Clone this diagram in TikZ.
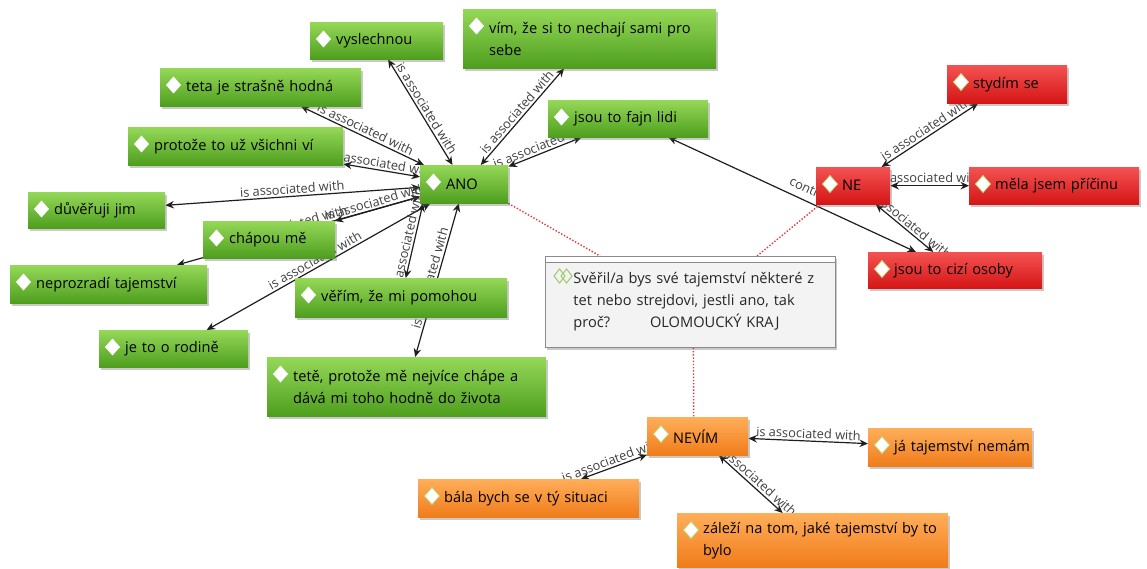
\documentclass[tikz,border=0pt]{standalone}
\usepackage{fontspec}
\setmainfont{Open Sans}
\usetikzlibrary{arrows.meta,calc,shadows}
\pgfdeclarelayer{background}
\pgfdeclarelayer{canvas}
\pgfsetlayers{canvas,background,main}
\definecolor{gtop}{HTML}{95D858}
\definecolor{gbot}{HTML}{4E9E1E}
\definecolor{rtop}{HTML}{F45252}
\definecolor{rbot}{HTML}{D51515}
\definecolor{otop}{HTML}{FFAE5A}
\definecolor{obot}{HTML}{F07C1A}
\definecolor{qfill}{HTML}{F3F3F3}
\definecolor{qdraw}{HTML}{8A8A8A}
\definecolor{labc}{HTML}{404040}
\definecolor{linec}{HTML}{1E1E1E}
\definecolor{dotred}{HTML}{E03C3C}
\definecolor{diaedge}{HTML}{B5DC7A}
\definecolor{qicon}{HTML}{9ACD6A}
\begin{document}
\begin{tikzpicture}[x=1pt,y=-1pt,
  box/.style={rectangle, anchor=north west, inner xsep=4pt, inner ysep=0pt, align=left, text=black,
     font=\fontsize{14.6}{22}\selectfont, execute at begin node={\leftskip=22pt\relax},
     drop shadow={shadow xshift=2pt, shadow yshift=-2.5pt, opacity=0.35, fill=black!60}},
  gbox/.style={box, top color=gtop, bottom color=gbot},
  rbox/.style={box, top color=rtop, bottom color=rbot},
  obox/.style={box, top color=otop, bottom color=obot},
  assoc/.style={draw=linec, line width=1.2pt, <->, >={Stealth[length=8.5pt,width=7.5pt]}},
  lab/.style={sloped, above, font=\fontsize{12.8}{15}\selectfont, text=labc, inner sep=2pt},
  reddot/.style={draw=dotred, line width=1.4pt, dash pattern=on 1.4pt off 1.8pt},
  diaw/.style={fill=white},
  diar/.style={fill=white, draw=diaedge, line width=0.8pt}
]
\begin{pgfonlayer}{canvas}
\fill[white] (0,0) rectangle (1147,569);
\end{pgfonlayer}
\useasboundingbox (0,0) rectangle (1147,569);

% green nodes
\node[gbox, text width=125pt, minimum height=37pt] (vysl) at (310,22) {\mbox{vyslechnou}};
\node[gbox, text width=245pt, minimum height=59pt] (vim) at (463,9) {\mbox{vím, že si to nechají sami pro}\\sebe};
\node[gbox, text width=193pt, minimum height=38pt] (teta) at (160,68) {\mbox{teta je strašně hodná}};
\node[gbox, text width=207pt, minimum height=38pt] (protoze) at (128,127) {\mbox{protože to už všichni ví}};
\node[gbox, text width=129pt, minimum height=36pt] (duveruji) at (28,192) {\mbox{důvěřuji jim}};
\node[gbox, text width=189pt, minimum height=38pt] (neprozradi) at (10,265) {\mbox{neprozradí tajemství}};
\node[gbox, text width=141pt, minimum height=37pt] (rodine) at (99,330) {\mbox{je to o rodině}};
\node[gbox, text width=124pt, minimum height=37pt] (chapou) at (203,221) {\mbox{chápou mě}};
\node[gbox, text width=204pt, minimum height=39pt] (verim) at (295,278) {\mbox{věřím, že mi pomohou}};
\node[gbox, text width=271pt, minimum height=59pt] (tete) at (267,357) {\mbox{tetě, protože mě nejvíce chápe a}\\\mbox{dává mi toho hodně do života}};
\node[gbox, text width=80pt, minimum height=38pt] (ANO) at (420,165) {\mbox{ANO}};
\node[gbox, text width=152pt, minimum height=37pt] (fajn) at (548,100) {\mbox{jsou to fajn lidi}};

% question
\node[box, fill=qfill, draw=qdraw, line width=0.8pt, text width=282pt, minimum height=91pt,
      text=black!85, execute at begin node={\leftskip=24pt\relax}] (question) at (545,256)
  {\mbox{Svěřil/a bys své tajemství některé z}\\\mbox{tet nebo strejdovi, jestli ano, tak}\\\mbox{proč?\hspace{40pt}OLOMOUCKÝ KRAJ}};
\draw[qdraw, fill=white, line width=0.7pt] (question.north west) rectangle ($(question.north east)+(0,6)$);
\draw[qicon, line width=1pt] ($(question.north west)+(9,20)$) -- ++(5.5,-7) -- ++(5.5,7) -- ++(-5.5,7) -- cycle;
\draw[qicon, line width=1pt] ($(question.north west)+(16,20)$) -- ++(5.5,-7) -- ++(5.5,7) -- ++(-5.5,7) -- cycle;

% red nodes
\node[rbox, text width=66pt, minimum height=37pt] (NE) at (816,167) {\mbox{NE}};
\node[rbox, text width=112pt, minimum height=38pt] (stydim) at (947,65) {\mbox{stydím se}};
\node[rbox, text width=162pt, minimum height=37pt] (mela) at (969,167) {\mbox{měla jsem příčinu}};
\node[rbox, text width=166pt, minimum height=36pt] (cizi) at (868,252) {\mbox{jsou to cizí osoby}};

% orange nodes
\node[obox, text width=93pt, minimum height=38pt] (nevim) at (647,417) {\mbox{NEVÍM}};
\node[obox, text width=213pt, minimum height=38pt] (bala) at (418,479) {\mbox{bála bych se v tý situaci}};
\node[obox, text width=156pt, minimum height=38pt] (ja) at (868,428) {\mbox{já tajemství nemám}};
\node[obox, text width=263pt, minimum height=54pt] (zalezi) at (677,513) {\mbox{záleží na tom, jaké tajemství by to}\\bylo};

% diamond icons
\foreach \n in {vysl,vim,teta,protoze,duveruji,neprozradi,rodine,chapou,verim,tete,ANO,fajn}
  \fill[diaw] ($(\n.north west)+(6,17)$) -- ++(7.5,-8.5) -- ++(7.5,8.5) -- ++(-7.5,8.5) -- cycle;
\foreach \n in {NE,stydim,mela,cizi,nevim,bala,ja,zalezi}
  \filldraw[diar] ($(\n.north west)+(6.5,17)$) -- ++(7.5,-8.5) -- ++(7.5,8.5) -- ++(-7.5,8.5) -- cycle;

\begin{pgfonlayer}{background}
\draw[assoc] (ANO) -- node[lab]{is associated with} (vysl);
\draw[assoc] (ANO) -- node[lab]{is associated with} (vim);
\draw[assoc] (ANO) -- node[lab]{is associated with} (fajn);
\draw[assoc] (ANO) -- node[lab]{is associated with} (teta);
\draw[assoc] (ANO) -- node[lab]{is associated with} (protoze);
\draw[assoc] (ANO) -- node[lab]{is associated with} (duveruji);
\draw[assoc] (ANO) -- node[lab]{is associated with} (chapou);
\draw[assoc] (ANO) -- node[lab]{is associated with} (neprozradi);
\draw[assoc] (ANO) -- node[lab]{is associated with} (rodine);
\draw[assoc] ($(ANO.south west)+(3,0)$) -- node[lab]{is associated with} (verim);
\draw[assoc] (ANO) -- node[lab]{is associated with} (tete);
\draw[assoc] (NE) -- node[lab]{is associated with} (stydim);
\draw[assoc] (NE) -- node[lab]{is associated with} (mela);
\draw[assoc] (NE) -- node[lab]{is associated with} (cizi);
\draw[assoc] (fajn) -- node[lab, pos=0.53, yshift=5pt]{contr} (cizi);
\draw[assoc] (nevim) -- node[lab]{is associated with} (bala);
\draw[assoc] (nevim) -- node[lab]{is associated with} (ja);
\draw[assoc] (nevim) -- node[lab]{is associated with} (zalezi);
\draw[reddot] (ANO.south east) -- ($(question.north west)+(55,0)$);
\draw[reddot] ($(NE.south west)+(4,0)$) -- ($(question.north west)+(212,0)$);
\draw[reddot] ($(question.south)+(3,0)$) -- ($(nevim.north)+(-4,0)$);
\end{pgfonlayer}
\end{tikzpicture}
\end{document}
